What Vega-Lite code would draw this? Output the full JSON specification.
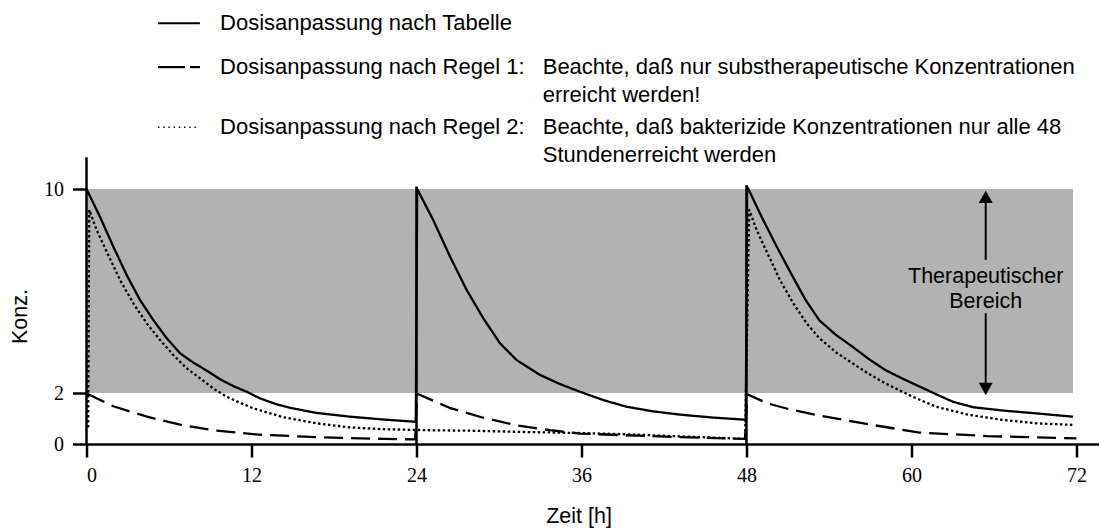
{
  "$schema": "https://vega.github.io/schema/vega-lite/v6.json",
  "width": 1012.5,
  "height": 444,
  "autosize": {"type": "none"},
  "padding": {"left": 86.5, "top": 0, "right": 0, "bottom": 86},
  "background": "white",
  "config": {
    "view": {"stroke": null},
    "font": "Liberation Sans",
    "axis": {"grid": false, "domainColor": "black", "tickColor": "black", "labelColor": "black", "titleColor": "black", "labelFont": "Liberation Serif", "labelFontSize": 20, "titleFont": "Liberation Sans", "titleFontSize": 21.5, "titleFontWeight": "normal", "tickWidth": 2.5, "domainWidth": 2.5}
  },
  "datasets": {
    "band": [{"t": 0, "t2": 71.75, "c": 2, "c2": 10}],
    "curves": [
      {"s": "Tabelle", "t": 0, "c": 10},
      {"s": "Tabelle", "t": 0.98, "c": 8.91},
      {"s": "Tabelle", "t": 1.95, "c": 7.74},
      {"s": "Tabelle", "t": 2.92, "c": 6.63},
      {"s": "Tabelle", "t": 3.89, "c": 5.65},
      {"s": "Tabelle", "t": 4.86, "c": 4.86},
      {"s": "Tabelle", "t": 5.83, "c": 4.15},
      {"s": "Tabelle", "t": 6.8, "c": 3.56},
      {"s": "Tabelle", "t": 7.77, "c": 3.19},
      {"s": "Tabelle", "t": 8.74, "c": 2.88},
      {"s": "Tabelle", "t": 9.71, "c": 2.54},
      {"s": "Tabelle", "t": 10.68, "c": 2.27},
      {"s": "Tabelle", "t": 11.65, "c": 2.05},
      {"s": "Tabelle", "t": 12.62, "c": 1.79},
      {"s": "Tabelle", "t": 13.7, "c": 1.58},
      {"s": "Tabelle", "t": 14.8, "c": 1.42},
      {"s": "Tabelle", "t": 16.7, "c": 1.22},
      {"s": "Tabelle", "t": 19.2, "c": 1.07},
      {"s": "Tabelle", "t": 21.6, "c": 0.96},
      {"s": "Tabelle", "t": 23.95, "c": 0.87},
      {"s": "Tabelle", "t": 24.05, "c": 10},
      {"s": "Tabelle", "t": 25.22, "c": 8.78},
      {"s": "Tabelle", "t": 26.44, "c": 7.35},
      {"s": "Tabelle", "t": 27.65, "c": 6.04},
      {"s": "Tabelle", "t": 28.86, "c": 4.93},
      {"s": "Tabelle", "t": 30.07, "c": 3.95},
      {"s": "Tabelle", "t": 31.29, "c": 3.29},
      {"s": "Tabelle", "t": 32.98, "c": 2.71},
      {"s": "Tabelle", "t": 34.44, "c": 2.35},
      {"s": "Tabelle", "t": 35.89, "c": 2.05},
      {"s": "Tabelle", "t": 37.6, "c": 1.72},
      {"s": "Tabelle", "t": 39.3, "c": 1.46},
      {"s": "Tabelle", "t": 41.2, "c": 1.28},
      {"s": "Tabelle", "t": 43.2, "c": 1.15},
      {"s": "Tabelle", "t": 45.5, "c": 1.04},
      {"s": "Tabelle", "t": 47.95, "c": 0.95},
      {"s": "Tabelle", "t": 48.05, "c": 10.1},
      {"s": "Tabelle", "t": 49.1, "c": 8.91},
      {"s": "Tabelle", "t": 50.2, "c": 7.74},
      {"s": "Tabelle", "t": 51.3, "c": 6.63},
      {"s": "Tabelle", "t": 52.3, "c": 5.65},
      {"s": "Tabelle", "t": 53.3, "c": 4.85},
      {"s": "Tabelle", "t": 54.5, "c": 4.28},
      {"s": "Tabelle", "t": 55.7, "c": 3.82},
      {"s": "Tabelle", "t": 56.9, "c": 3.33},
      {"s": "Tabelle", "t": 58.1, "c": 2.9},
      {"s": "Tabelle", "t": 59.4, "c": 2.55},
      {"s": "Tabelle", "t": 60.6, "c": 2.25},
      {"s": "Tabelle", "t": 61.8, "c": 1.95},
      {"s": "Tabelle", "t": 63.0, "c": 1.66},
      {"s": "Tabelle", "t": 64.5, "c": 1.44},
      {"s": "Tabelle", "t": 66.7, "c": 1.31},
      {"s": "Tabelle", "t": 69.1, "c": 1.2},
      {"s": "Tabelle", "t": 71.75, "c": 1.07},
      {"s": "Regel 1", "t": 0.05, "c": 1.97},
      {"s": "Regel 1", "t": 1.95, "c": 1.48},
      {"s": "Regel 1", "t": 4.4, "c": 1.07},
      {"s": "Regel 1", "t": 6.8, "c": 0.76},
      {"s": "Regel 1", "t": 9.2, "c": 0.54},
      {"s": "Regel 1", "t": 12.5, "c": 0.37},
      {"s": "Regel 1", "t": 16.7, "c": 0.27},
      {"s": "Regel 1", "t": 21.6, "c": 0.2},
      {"s": "Regel 1", "t": 23.9, "c": 0.18},
      {"s": "Regel 1", "t": 24.05, "c": 1.97},
      {"s": "Regel 1", "t": 26.4, "c": 1.42},
      {"s": "Regel 1", "t": 28.85, "c": 1.03},
      {"s": "Regel 1", "t": 31.3, "c": 0.73},
      {"s": "Regel 1", "t": 33.7, "c": 0.54},
      {"s": "Regel 1", "t": 35.9, "c": 0.41},
      {"s": "Regel 1", "t": 38.8, "c": 0.35},
      {"s": "Regel 1", "t": 43.2, "c": 0.27},
      {"s": "Regel 1", "t": 47.9, "c": 0.2},
      {"s": "Regel 1", "t": 48.05, "c": 1.95},
      {"s": "Regel 1", "t": 49.5, "c": 1.6},
      {"s": "Regel 1", "t": 51.2, "c": 1.35},
      {"s": "Regel 1", "t": 53.3, "c": 1.12},
      {"s": "Regel 1", "t": 57.0, "c": 0.76},
      {"s": "Regel 1", "t": 60.6, "c": 0.45},
      {"s": "Regel 1", "t": 65.5, "c": 0.31},
      {"s": "Regel 1", "t": 72.0, "c": 0.22},
      {"s": "Regel 2", "t": 0.12, "c": 0.65},
      {"s": "Regel 2", "t": 0.2, "c": 9.18},
      {"s": "Regel 2", "t": 0.74, "c": 8.39},
      {"s": "Regel 2", "t": 1.47, "c": 7.54},
      {"s": "Regel 2", "t": 2.44, "c": 6.43},
      {"s": "Regel 2", "t": 3.4, "c": 5.52},
      {"s": "Regel 2", "t": 4.38, "c": 4.73},
      {"s": "Regel 2", "t": 5.35, "c": 4.08},
      {"s": "Regel 2", "t": 6.31, "c": 3.49},
      {"s": "Regel 2", "t": 7.29, "c": 2.97},
      {"s": "Regel 2", "t": 8.25, "c": 2.58},
      {"s": "Regel 2", "t": 9.22, "c": 2.18},
      {"s": "Regel 2", "t": 10.2, "c": 1.85},
      {"s": "Regel 2", "t": 11.16, "c": 1.62},
      {"s": "Regel 2", "t": 12.13, "c": 1.4},
      {"s": "Regel 2", "t": 14.31, "c": 1.05},
      {"s": "Regel 2", "t": 16.74, "c": 0.81},
      {"s": "Regel 2", "t": 19.16, "c": 0.65},
      {"s": "Regel 2", "t": 21.6, "c": 0.58},
      {"s": "Regel 2", "t": 24.98, "c": 0.54},
      {"s": "Regel 2", "t": 28.0, "c": 0.52},
      {"s": "Regel 2", "t": 32.0, "c": 0.47},
      {"s": "Regel 2", "t": 35.9, "c": 0.43},
      {"s": "Regel 2", "t": 38.8, "c": 0.39},
      {"s": "Regel 2", "t": 43.2, "c": 0.3},
      {"s": "Regel 2", "t": 47.9, "c": 0.2},
      {"s": "Regel 2", "t": 48.2, "c": 9.18},
      {"s": "Regel 2", "t": 48.74, "c": 8.39},
      {"s": "Regel 2", "t": 49.47, "c": 7.54},
      {"s": "Regel 2", "t": 50.44, "c": 6.43},
      {"s": "Regel 2", "t": 51.4, "c": 5.52},
      {"s": "Regel 2", "t": 52.38, "c": 4.73},
      {"s": "Regel 2", "t": 53.3, "c": 4.15},
      {"s": "Regel 2", "t": 54.5, "c": 3.6},
      {"s": "Regel 2", "t": 55.7, "c": 3.17},
      {"s": "Regel 2", "t": 56.9, "c": 2.75},
      {"s": "Regel 2", "t": 58.1, "c": 2.38},
      {"s": "Regel 2", "t": 60.1, "c": 1.85},
      {"s": "Regel 2", "t": 61.8, "c": 1.46},
      {"s": "Regel 2", "t": 64.2, "c": 1.14},
      {"s": "Regel 2", "t": 66.7, "c": 0.94},
      {"s": "Regel 2", "t": 69.1, "c": 0.81},
      {"s": "Regel 2", "t": 71.75, "c": 0.75}
    ],
    "doses": [
      {"t": 0, "c": 0, "c2": 11.25},
      {"t": 24, "c": 0, "c2": 10.1},
      {"t": 48, "c": 0, "c2": 10.15}
    ],
    "arrowlines": [
      {"t": 65.4, "c": 7.22, "c2": 9.5},
      {"t": 65.4, "c": 2.35, "c2": 5.13}
    ],
    "headup": [{"t": 65.4, "c": 9.69}],
    "headdown": [{"t": 65.4, "c": 2.16}],
    "samplesolid": [
      {"t": 5.2, "t2": 8.25, "c": 16.5},
      {"t": 5.2, "t2": 7.16, "c": 14.78},
      {"t": 7.53, "t2": 8.25, "c": 14.78}
    ],
    "sampledot": [{"t": 5.2, "t2": 7.95, "c": 12.42}],
    "legendtext": [
      {"t": 9.71, "c": 16.5, "label": "Dosisanpassung nach Tabelle"},
      {"t": 9.71, "c": 14.78, "label": "Dosisanpassung nach Regel 1:"},
      {"t": 33.18, "c": 14.78, "label": "Beachte, daß nur substherapeutische Konzentrationen"},
      {"t": 33.18, "c": 13.69, "label": "erreicht werden!"},
      {"t": 9.71, "c": 12.42, "label": "Dosisanpassung nach Regel 2:"},
      {"t": 33.18, "c": 12.42, "label": "Beachte, daß bakterizide Konzentrationen nur alle 48"},
      {"t": 33.18, "c": 11.33, "label": "Stundenerreicht werden"}
    ],
    "bereich": [
      {"t": 65.4, "c": 6.3, "label": "Therapeutischer"},
      {"t": 65.4, "c": 5.32, "label": "Bereich"}
    ]
  },
  "encoding": {
    "x": {"field": "t", "type": "quantitative", "title": "Zeit [h]",
      "scale": {"domain": [0, 73.64], "nice": false, "zero": false},
      "axis": {"values": [0, 12, 24, 36, 48, 60, 72], "tickSize": 13, "labelPadding": 8, "titleX": 492, "titleY": 72, "titleBaseline": "middle", "titleAlign": "center"}},
    "y": {"field": "c", "type": "quantitative", "title": "Konz.",
      "scale": {"domain": [0, 17.412], "nice": false, "zero": false},
      "axis": {"values": [0, 2, 10], "tickSize": 14, "labelPadding": 9, "domain": false, "titleX": -66, "titleY": 316, "titleBaseline": "middle", "titleAlign": "center", "titleAngle": 270}}
  },
  "layer": [
    {
      "data": {"name": "band"},
      "mark": {"type": "rect", "color": "#b2b2b2"},
      "encoding": {"x2": {"field": "t2"}, "y2": {"field": "c2"}}
    },
    {
      "data": {"name": "curves"},
      "mark": {"type": "line", "color": "black", "strokeWidth": 2.3, "interpolate": "linear", "strokeJoin": "round"},
      "encoding": {
        "strokeDash": {"field": "s", "type": "nominal", "legend": null,
          "scale": {"domain": ["Tabelle", "Regel 1", "Regel 2"], "range": [[1, 0], [19, 8], [2.5, 2.5]]}}
      }
    },
    {
      "data": {"name": "doses"},
      "mark": {"type": "rule", "color": "black", "strokeWidth": 2.5},
      "encoding": {"y2": {"field": "c2"}}
    },
    {
      "data": {"name": "arrowlines"},
      "mark": {"type": "rule", "color": "black", "strokeWidth": 2},
      "encoding": {"y2": {"field": "c2"}}
    },
    {
      "data": {"name": "headup"},
      "mark": {"type": "point", "shape": "triangle-up", "size": 196, "filled": true, "color": "black", "opacity": 1},
      "encoding": {}
    },
    {
      "data": {"name": "headdown"},
      "mark": {"type": "point", "shape": "triangle-down", "size": 196, "filled": true, "color": "black", "opacity": 1},
      "encoding": {}
    },
    {
      "data": {"name": "samplesolid"},
      "mark": {"type": "rule", "color": "black", "strokeWidth": 2.2},
      "encoding": {"x2": {"field": "t2"}}
    },
    {
      "data": {"name": "sampledot"},
      "mark": {"type": "rule", "color": "black", "strokeWidth": 1.4, "strokeDash": [1.4, 3.8]},
      "encoding": {"x2": {"field": "t2"}}
    },
    {
      "data": {"name": "legendtext"},
      "mark": {"type": "text", "align": "left", "baseline": "middle", "font": "Liberation Sans", "fontSize": 22, "color": "black"},
      "encoding": {"text": {"field": "label"}}
    },
    {
      "data": {"name": "bereich"},
      "mark": {"type": "text", "align": "center", "baseline": "alphabetic", "font": "Liberation Sans", "fontSize": 21.5, "color": "black"},
      "encoding": {"text": {"field": "label"}}
    }
  ]
}
